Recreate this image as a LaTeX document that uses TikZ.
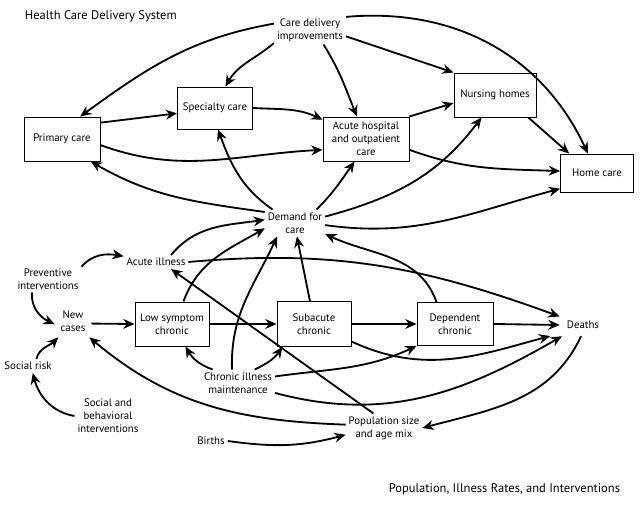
\documentclass[tikz,border=0pt]{standalone}
\usepackage{fontspec}
\setmainfont{PT Sans}
\usepackage{tikz}
\usetikzlibrary{arrows.meta,shapes,positioning}
\tikzstyle{arrow} = [line width=1.3pt,->,>={Stealth[length=8pt,width=7pt]}]
\tikzstyle{carebox} = [rectangle, draw, line width=0.65pt, minimum width=1.9cm, minimum height=1.1cm, text centered, align=center, inner sep=2pt]
\tikzstyle{factor} = [align=center, inner sep=2pt]
\tikzstyle{heading} = [font=\fontsize{8.9}{11}\selectfont]

\begin{document}
\begin{tikzpicture}[x=0.025cm, y=0.025cm, font=\fontsize{7.7}{9.2}\selectfont]
    \useasboundingbox (0,0) rectangle (640,505);

    % Headings
    \node[heading, anchor=west] (toptitle) at (20,489) {Health Care Delivery System};
    \node[heading, anchor=east] (bottomtitle) at (625,16) {Population, Illness Rates, and Interventions};

    % Health care delivery system
    \node[factor] (care) at (310,475) {Care delivery\\improvements};
    \node[carebox] (primary) at (62,366) {Primary care};
    \node[carebox, minimum width=1.875cm, minimum height=1.05cm] (specialty) at (215,397) {Specialty care};
    \node[carebox, minimum width=2.15cm] (acute) at (366,366) {Acute hospital\\and outpatient\\care};
    \node[carebox, minimum width=2.05cm] (nursing) at (495,410) {Nursing homes};
    \node[carebox, minimum width=1.825cm, minimum height=0.95cm] (home) at (597,332) {Home care};
    \node[factor] (demand) at (295,282) {Demand for\\care};

    % Population and illness
    \node[factor] (acuteill) at (156,243) {Acute illness};
    \node[factor] (prevent) at (48,226) {Preventive\\interventions};
    \node[factor, inner sep=4pt] (newcases) at (73,184) {New\\cases};
    \node[carebox, minimum width=1.85cm] (lowsym) at (172,181) {Low symptom\\chronic};
    \node[carebox, minimum width=1.85cm, minimum height=1.125cm] (subacute) at (314,181) {Subacute\\chronic};
    \node[carebox, minimum height=1.075cm] (dependent) at (455,181) {Dependent\\chronic};
    \node[factor, inner sep=5pt] (deaths) at (583,180) {Deaths};
    \node[factor] (socialrisk) at (28,139) {Social risk};
    \node[factor] (socbeh) at (108,89) {Social and\\behavioral\\interventions};
    \node[factor] (chronic) at (238,122) {Chronic illness\\maintenance};
    \node[factor] (births) at (211,64) {Births};
    \node[factor] (popsize) at (384,77) {Population size\\and age mix};

    % Care delivery improvements
    \draw[arrow] (care.170) to[out=190,in=36] (primary.51);
    \draw[arrow] (care.200) to[out=220,in=60] (specialty.64);
    \draw[arrow] (care.313) to[out=-58,in=112] (acute.112);
    \draw[arrow] (care.-10) -- (nursing.north west);
    \draw[arrow] (care.20) to[out=5,in=115] (home.115);

    % Flows between providers
    \draw[arrow] (primary.23) -- (specialty.188);
    \draw[arrow] (primary.-9) to[out=-20,in=183] (acute.194);
    \draw[arrow] (specialty.east) to[out=-3,in=155] (acute.156);
    \draw[arrow] (acute.north east) -- (nursing.191);
    \draw[arrow] (nursing.-34) -- (home.145);
    \draw[arrow] (acute.-14) to[out=-20,in=178] (home.177);

    % Demand for care
    \draw[arrow] (demand.160) to[out=172,in=-30] (primary.-38);
    \draw[arrow] (demand.149) to[out=145,in=-70] (specialty.-82);
    \draw[arrow] (demand.32) to[out=45,in=-125] (acute.243);
    \draw[arrow] (demand.12) to[out=15,in=-127] (nursing.239);
    \draw[arrow] (demand.-4) to[out=-8,in=195] (home.203);
    \draw[arrow] (acuteill.25) to[out=50,in=188] (demand.174);
    \draw[arrow] (lowsym.63) to[out=70,in=210] (demand.190);
    \draw[arrow] (chronic.114) to[out=92,in=-115] (demand.217);
    \draw[arrow] (subacute.100) -- (demand.-82);
    \draw[arrow] (dependent.130) to[out=110,in=-25] (demand.-20);

    % Illness progression
    \draw[arrow] (prevent.20) to[out=50,in=170] (acuteill.170);
    \draw[arrow] (prevent.220) to[out=-95,in=155] (newcases.190);
    \draw[arrow] (socialrisk.40) to[out=75,in=225] (newcases.228);
    \draw[arrow] (socbeh.west) to[out=170,in=-75] (socialrisk.-56);
    \draw[arrow] (newcases.-8) -- (lowsym.west);
    \draw[arrow] (lowsym.east) -- (subacute.west);
    \draw[arrow] (subacute.east) -- (dependent.west);
    \draw[arrow] (dependent.east) -- (deaths.west);
    \draw[arrow] (acuteill.east) to[out=5,in=160] (deaths.160);
    \draw[arrow] (popsize.126) -- (acuteill.-25);
    \draw[arrow] (chronic.152) to[out=160,in=-60] (lowsym.-59);
    \draw[arrow] (chronic.39) to[out=25,in=-125] (subacute.216);
    \draw[arrow] (chronic.10) to[out=8,in=205] (dependent.south west);
    \draw[arrow] (chronic.-15) to[out=-15,in=210] (deaths.208);
    \draw[arrow, shorten >=7pt] (subacute.-25) to[out=-25,in=195] (deaths.200);

    % Population
    \draw[arrow] (popsize.175) to[out=178,in=-40] (newcases.-45);
    \draw[arrow] (births.east) to[out=-8,in=195] (popsize.190);
    \draw[arrow] (deaths.-100) to[out=245,in=15] (popsize.east);
\end{tikzpicture}
\end{document}
